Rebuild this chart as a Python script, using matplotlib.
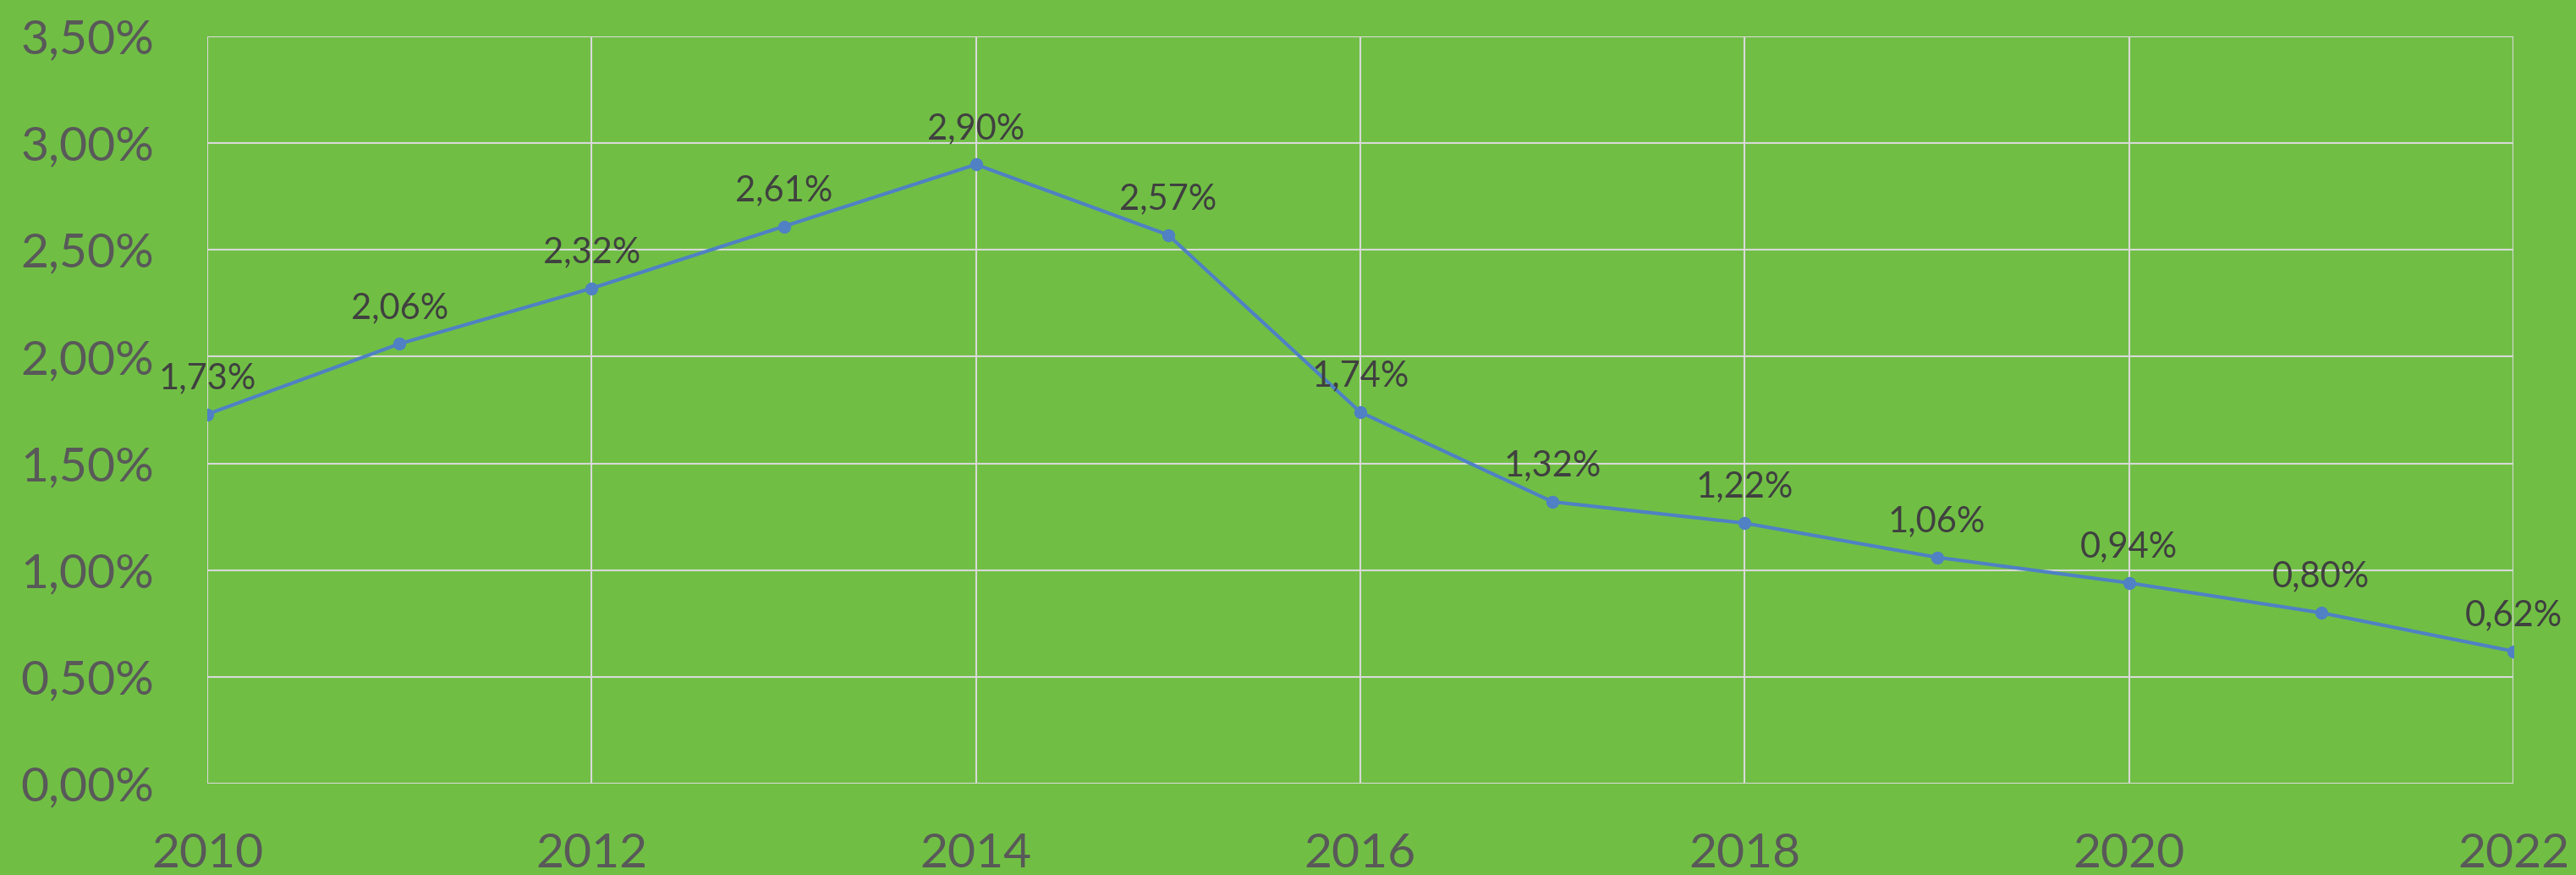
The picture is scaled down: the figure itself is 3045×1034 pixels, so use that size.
import matplotlib.pyplot as plt
from matplotlib.ticker import FuncFormatter

years = [2010, 2011, 2012, 2013, 2014, 2015, 2016, 2017, 2018, 2019, 2020, 2021, 2022]
rates = [1.73, 2.06, 2.32, 2.61, 2.90, 2.57, 1.74, 1.32, 1.22, 1.06, 0.94, 0.80, 0.62]

bg = '#70bf44'
plt.rcParams['font.family'] = ['Lato', 'DejaVu Sans']

fig = plt.figure(figsize=(30.45, 10.34), dpi=100, facecolor=bg)
ax = fig.add_axes([245 / 3045, 1 - 926 / 1034, (2971 - 245) / 3045, (926 - 43) / 1034])
ax.set_facecolor(bg)

ax.plot(years, rates, color='#4f81c4', lw=3, marker='o', ms=10, zorder=3)

# data labels above each point
for x, y in zip(years, rates):
    ax.annotate(f'{y:.2f}%'.replace('.', ','), (x, y), xytext=(0, 22),
                textcoords='offset points', ha='center', va='baseline',
                fontsize=30, color='#404040', zorder=4)

ax.set_xlim(2010, 2022)
ax.set_ylim(0, 3.5)
ax.set_xticks(range(2010, 2023, 2))
ax.set_yticks([i * 0.5 for i in range(8)])
ax.yaxis.set_major_formatter(FuncFormatter(lambda v, p: f'{v:.2f}%'.replace('.', ',')))

ax.grid(True, color='#d9d9d9', lw=1.5)
ax.set_axisbelow(True)
for s in ax.spines.values():
    s.set_visible(False)
ax.tick_params(length=0, labelsize=41, colors='#595959')
ax.tick_params(axis='y', pad=45)
ax.tick_params(axis='x', pad=42)

fig.savefig('out.png', dpi=100, facecolor=bg)
